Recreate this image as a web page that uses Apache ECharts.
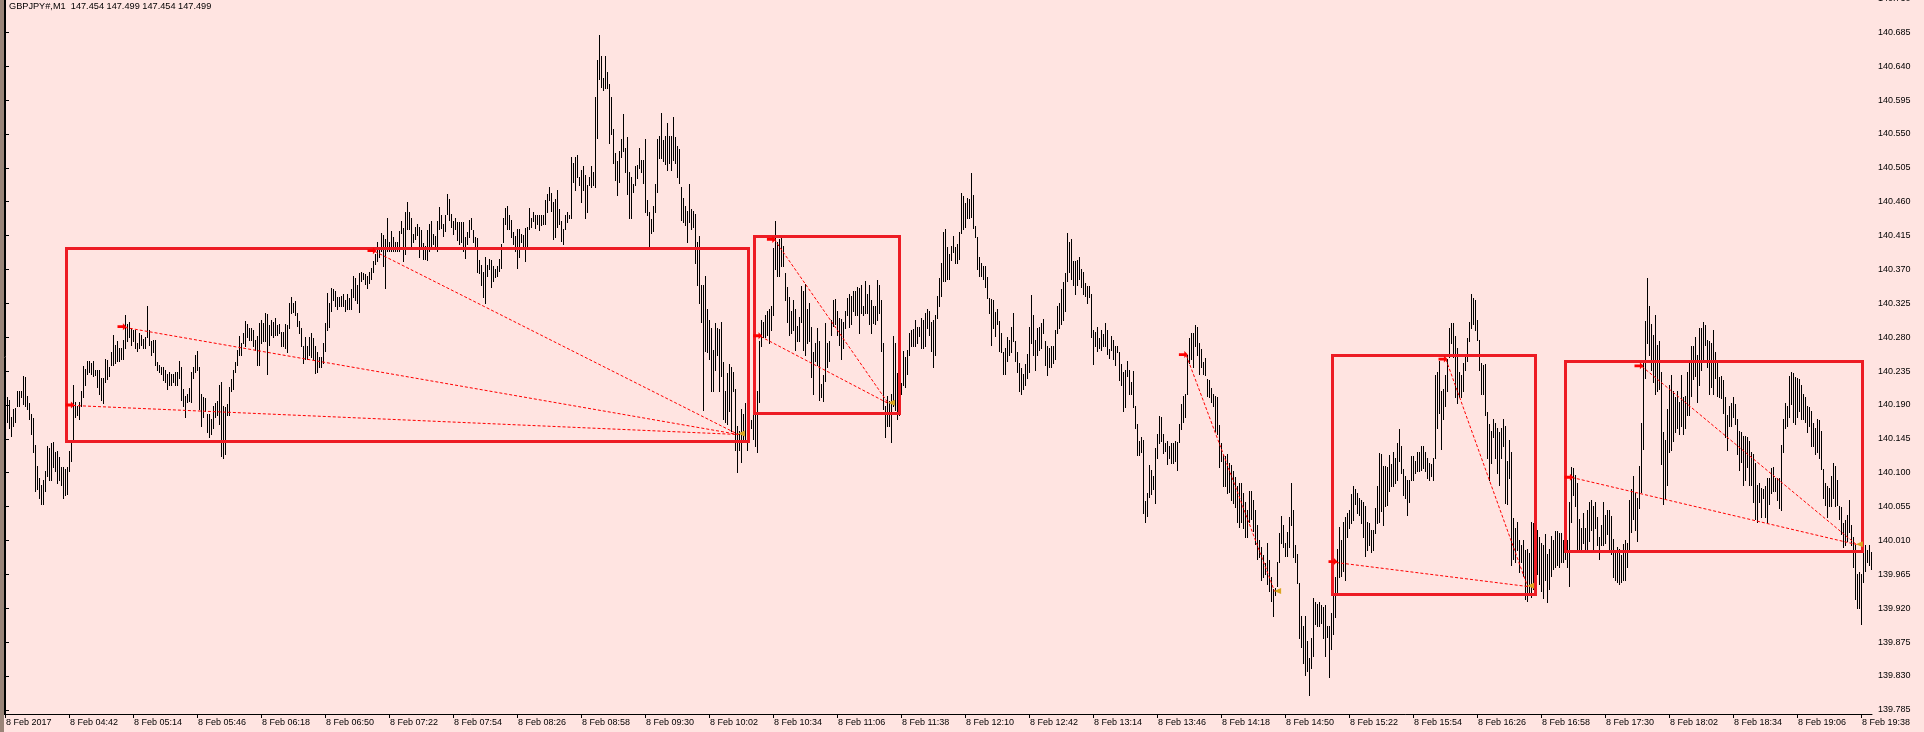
<!DOCTYPE html>
<html><head><meta charset="utf-8">
<script src="https://cdn.jsdelivr.net/npm/echarts@6/dist/echarts.min.js"></script>
<style>html,body{margin:0;padding:0;background:#FFE4E1;overflow:hidden}#c{width:1924px;height:732px}</style>
</head><body><div id="c"></div>
<script>
// ---- data ----
const headerText = 'GBPJPY#,M1  147.454 147.499 147.454 147.499';
const dayLabel = '8 Feb';
const firstTickLabel = '8 Feb 2017';
const startTime = '04:10';           // time of bar 0 (M1 bars)
const BASE = 139.700;                // prices below are in points (0.001) above BASE
const highs = [
494,500,497,474,485,486,508,508,509,528, 527,502,493,478,473,437,409,393,384,391,
402,435,433,439,441,428,429,421,407,407, 405,407,429,441,516,494,489,494,508,542,
538,549,549,546,548,537,537,536,526,526, 551,550,540,560,583,570,575,566,566,577,
609,598,600,592,589,590,572,585,583,578, 580,622,589,575,576,577,547,543,540,540,
536,531,534,531,531,534,534,549,540,511, 502,505,512,534,540,557,562,540,505,500,
499,478,478,471,488,492,495,517,520,488, 487,491,514,524,537,547,563,581,573,585,
601,598,592,592,589,577,581,599,603,599, 612,611,596,603,600,606,596,598,587,587,
598,596,626,633,625,628,612,602,592,569, 580,569,580,585,579,568,560,554,554,573,
599,639,625,646,644,641,633,633,635,638, 630,637,632,644,662,659,649,666,667,666,
664,661,667,672,681,690,707,698,
719,716,711,738,707,721,713,707,707,721, 735,725,747,760,746,739,717,727,731,726,
722,705,701,723,730,734,717,714,735,753, 742,731,743,770,763,744,735,739,733,733,
733,733,713,720,736,738,723,713,712,683, 676,667,686,676,684,682,675,670,675,684,
704,738,752,754,742,736,720,714,724,724, 717,716,725,727,752,739,746,743,743,743,
743,743,762,770,780,771,760,763,776,750, 735,724,742,747,743,819,812,820,822,793,
802,808,796,782,793,808,799,899,948,981, 953,925,954,933,916,899,857,825,814,828,
844,877,831,846,799,793,783,808,809,831, 816,816,844,762,747,737,754,783,844,848,
878,842,848,865,848,848,873,846,834,830, 779,765,754,748,783,750,748,744,707,714,
649,649,662,618,603,592,563,599,592,591, 600,547,508,533,545,540,534,511,462,455,
485,478,493,477,477,470,478,477,
508,575,603,600,609,615,618,621,698,735, 707,710,712,701,666,647,633,615,629,617,
595,607,648,642,651,618,625,593,560,572, 592,575,518,530,599,573,575,603,629,631,
615,606,604,600,615,632,638,635,642,642, 647,645,649,621,655,638,649,630,621,621,
656,649,629,573,488,502,495,505,582,573, 533,517,519,562,554,563,585,589,591,603,
594,594,606,603,612,618,615,600,603,610, 635,659,678,720,724,700,690,701,714,700,
704,720,772,767,759,765,763,798,769,728, 713,686,678,674,674,660,632,631,630,613,
618,602,586,560,566,580,577,593,612,575, 560,546,539,531,545,558,594,636,609,576,
592,593,599,604,575,569,566,568,569,589, 622,626,644,653,666,719,707,710,681,681,
682,687,671,667,652,648,648,637,590,587, 594,579,590,584,599,589,564,582,576,569,
569,560,544,534,537,548,536,521,
535,488,465,442,448,443,363,373,410,403, 396,433,452,475,474,451,440,442,436,439,
439,442,441,465,491,502,505,557,579,586, 585,596,593,573,564,547,553,524,523,512,
504,502,501,464,439,424,422,425,413,410, 402,395,382,387,386,373,361,351,376,376,
364,351,330,310,301,291,280,307,284,261, 246,247,282,320,343,330,307,321,341,387,
351,304,292,253,210,197,210,177,154,180, 233,228,226,228,224,222,224,197,197,214,
242,262,299,328,311,335,341,347,350,372, 382,378,373,367,364,361,356,335,333,324,
324,353,382,426,425,409,409,407,424,412, 428,420,439,458,436,405,396,391,391,422,
422,416,428,428,436,436,428,419,413,412, 419,530,534,549,508,511,530,551,592,599,
599,581,566,534,530,546,557,579,600,638, 632,629,603,577,546,543,545,481,465,456,
472,466,460,454,460,471,462,416,
443,428,340,327,335,310,304,311,298,299, 293,335,333,327,324,315,307,304,318,292,
299,316,310,322,322,320,320,311,316,311, 361,407,406,397,387,338,327,347,327,350,
361,364,356,361,341,315,330,361,344,351, 350,343,312,293,301,299,291,305,310,307,
364,379,396,373,367,409,466,546,602,659, 622,598,583,610,570,575,534,454,443,485,
517,530,508,501,508,494,530,500,502,534, 546,569,569,580,557,592,592,600,596,576,
575,572,589,560,546,527,528,523,500,477, 488,493,500,491,472,456,454,449,449,448,
442,428,425,413,384,387,380,379,382,393, 393,406,407,393,393,393,437,472,493,488,
528,534,533,527,526,524,517,505,500,488, 487,482,466,460,471,470,456,405,387,382,
380,396,413,409,390,356,354,333,337,344, 364,331,315,304,266,268,266,298,304,298,
304,295
];
const lows = [
456,468,459,449,462,468,488,488,500,491, 489,485,471,451,428,376,379,367,359,359,
376,396,391,391,407,402,387,390,384,367, 370,372,402,416,442,474,477,471,489,500,
517,531,534,531,528,530,514,505,497,492, 520,524,528,543,543,546,549,549,551,551,
566,575,580,570,575,566,562,566,570,566, 566,580,570,557,560,543,537,534,531,523,
520,511,517,517,520,517,517,526,497,488, 474,494,495,494,526,534,537,485,462,474,
482,454,448,452,459,474,477,465,422,419, 425,477,477,508,511,534,543,557,557,572,
569,580,577,577,569,563,543,543,572,575, 575,531,570,583,580,583,583,585,569,569,
566,560,592,612,613,609,595,586,569,546, 551,551,556,554,551,532,534,540,540,546,
562,589,593,615,629,621,618,621,621,621, 615,618,618,618,633,629,626,614,655,658,
651,645,652,658,667,677,681,687,
695,675,645,695,695,695,695,694,695,695, 719,681,690,724,724,701,707,710,716,687,
701,684,684,683,695,701,704,701,694,724, 725,714,721,744,736,727,717,724,709,704,
707,694,685,704,713,724,707,701,667,666, 649,633,626,661,670,647,655,660,661,668,
672,707,730,724,724,713,704,695,672,687, 707,698,681,698,724,727,735,725,730,723,
729,730,731,747,762,748,710,713,727,730, 708,704,724,733,739,739,786,776,793,782,
760,776,738,747,782,779,782,779,845,923, 913,909,911,911,838,850,812,789,769,786,
819,828,799,770,739,739,773,782,791,805, 800,785,747,742,701,719,721,747,773,818,
818,814,810,802,811,802,816,811,793,785, 736,733,729,706,733,724,727,678,649,626,
600,484,562,560,551,508,508,537,557,508, 528,471,468,465,482,456,508,430,401,430,
414,442,442,430,447,459,445,435,
428,494,569,580,580,583,572,589,609,670, 662,662,675,675,629,600,583,586,589,563,
575,575,600,563,557,572,575,527,505,549, 543,497,500,495,522,540,549,583,595,598,
583,570,551,566,592,609,593,598,615,610, 609,585,612,609,612,612,598,585,599,598,
603,612,562,485,448,462,462,441,488,484, 471,477,504,517,514,531,557,569,569,568,
572,581,566,566,569,592,583,562,540,557, 606,622,635,655,655,657,658,683,693,678,
679,684,719,724,727,739,739,740,725,713, 670,662,661,658,647,632,612,570,592,581,
598,562,560,531,531,549,557,560,575,549, 534,508,504,511,517,526,534,572,557,536,
556,563,566,585,543,530,540,540,546,551, 585,592,598,603,615,655,667,658,649,637,
649,658,647,638,635,626,633,580,545,569, 562,566,563,569,569,558,553,563,551,543,
560,523,517,482,487,528,505,505,
487,460,423,423,428,347,335,343,368,372, 379,360,420,439,442,426,429,412,419,413,
413,416,403,441,458,468,474,504,546,551, 540,569,557,531,540,531,530,502,501,494,
489,455,451,407,416,383,382,373,374,364, 360,354,335,328,334,326,314,315,334,338,
322,305,285,288,258,261,266,252,243,229, 210,238,249,281,307,301,289,289,301,330,
288,281,253,180,168,147,131,137,105,141, 157,199,197,197,200,180,157,182,128,166,
186,209,240,261,263,270,258,315,326,333, 337,359,347,344,333,315,289,297,304,295,
297,320,333,335,349,331,356,357,376,382, 383,387,390,416,399,370,367,344,361,390,
390,399,402,402,403,406,402,393,391,396, 390,419,459,479,432,472,488,508,554,572,
554,500,493,500,501,508,537,549,575,592, 598,589,576,537,504,505,477,419,390,413,
448,419,399,384,419,436,360,359,
393,278,286,281,298,268,282,263,232,229, 239,235,246,252,266,252,243,234,258,228,
246,263,272,275,278,275,281,281,286,275, 249,335,370,356,295,298,297,307,298,298,
309,324,298,327,304,286,304,304,307,318, 298,292,262,258,255,252,255,258,257,275,
298,321,338,324,309,353,374,432,526,572, 557,537,520,505,508,511,412,359,367,384,
428,430,442,454,459,451,462,451,459,477, 477,502,524,528,494,517,537,551,570,540,
505,514,505,526,502,501,499,479,448,430, 462,462,474,465,425,403,414,384,390,407,
384,384,361,338,335,361,341,367,341,335, 359,373,376,376,364,353,351,428,459,462,
474,491,468,465,474,482,471,471,468,454, 462,436,435,425,428,419,405,367,357,341,
356,356,367,356,357,338,318,301,304,309, 321,304,275,232,220,220,199,255,269,281,
278,272
];
const yTicks = [139.785,139.830,139.875,139.920,139.965,140.010,140.055,140.100,140.145,140.190,140.235,
  140.280,140.325,140.370,140.415,140.460,140.505,140.550,140.595,140.640,140.685,140.730];
const xTickTimes = ['04:10','04:42','05:14','05:46','06:18','06:50','07:22','07:54','08:26','08:58',
  '09:30','10:02','10:34','11:06','11:38','12:10','12:42','13:14','13:46','14:18',
  '14:50','15:22','15:54','16:26','16:58','17:30','18:02','18:34','19:06','19:38'];
// rectangles: [startBar, endBar, topPrice, bottomPrice]
const boxes = [
  [30.5, 371.3, 140.398, 140.142],
  [374.5, 447.2, 140.415, 140.179],
  [663.7, 764.8, 140.257, 139.939],
  [780.0, 928.7, 140.248, 139.996]
];
// dashed trend lines: [fromBar, fromPrice, toBar, toPrice]
const fanLines = [
  [34, 140.190, 366.7, 140.152],
  [60, 140.294, 366.7, 140.152],
  [185, 140.395, 366.7, 140.152],
  [377.8, 140.282, 441.7, 140.193],
  [384.7, 140.410, 441.7, 140.193],
  [590.7, 140.257, 634.8, 139.943],
  [665.5, 139.982, 761.3, 139.950],
  [720.5, 140.251, 761.3, 139.950],
  [783.5, 140.094, 925.7, 140.005],
  [818.5, 140.242, 925.7, 140.005]
];

// ---- build ----
const toMin = t => { const [h, m] = t.split(':').map(Number); return h * 60 + m; };
const tickIdx = xTickTimes.map(t => toMin(t) - toMin(startTime));
const tickLabel = {};
xTickTimes.forEach((t, k) => { tickLabel[tickIdx[k]] = k === 0 ? firstTickLabel : dayLabel + ' ' + t; });
const barData = highs.map((h, i) => [i, +(BASE + lows[i] / 1000).toFixed(3), +(BASE + h / 1000).toFixed(3)]);
const startPts = fanLines.map(l => [l[0], l[1]]);
const endSeen = {}; const endPts = [];
fanLines.forEach(l => { const k = l[2] + '_' + l[3]; if (!endSeen[k]) { endSeen[k] = 1; endPts.push([l[2], l[3]]); } });
const NB = highs.length;

const FONT = '"Liberation Sans", "DejaVu Sans", Arial, sans-serif';
const chart = echarts.init(document.getElementById('c'), null, { renderer: 'canvas' });
chart.setOption({
  animation: false,
  backgroundColor: '#FFE4E1',
  textStyle: { fontFamily: FONT },
  grid: { left: 4, right: 52, top: -3, bottom: 18, containLabel: false, outerBoundsMode: 'none' },
  xAxis: {
    type: 'value', min: -0.5, max: NB - 0.5,
    axisLine: { show: true, lineStyle: { color: '#000', width: 1 } },
    axisTick: { show: true, length: 4, lineStyle: { color: '#000' }, customValues: tickIdx },
    axisLabel: { show: true, customValues: tickIdx, formatter: v => tickLabel[Math.round(v)] || '',
      align: 'left', margin: 4, color: '#000', fontSize: 9, fontFamily: FONT, padding: [0, 0, 0, 1],
      hideOverlap: false },
    splitLine: { show: false }
  },
  yAxis: {
    type: 'value', position: 'right', min: 139.7795, max: 140.732, scale: true,
    axisLine: { show: true, lineStyle: { color: '#000', width: 1 } },
    axisTick: { show: true, length: 4, lineStyle: { color: '#000' }, customValues: yTicks },
    axisLabel: { show: true, customValues: yTicks, formatter: v => v.toFixed(3), margin: 6,
      color: '#000', fontSize: 9, fontFamily: FONT, hideOverlap: false },
    splitLine: { show: false }
  },
  graphic: [
    { type: 'rect', left: 0, top: 0, shape: { width: 4, height: 732 }, style: { fill: '#9A8478' }, z: 100 },
    { type: 'line', shape: { x1: 4.5, y1: 0, x2: 4.5, y2: 715 }, style: { stroke: '#000', lineWidth: 1 }, z: 100 },
    { type: 'text', left: 9, top: 2, style: { text: headerText, fill: '#000', font: '9.2px ' + FONT }, z: 100 }
  ],
  series: [
    {
      type: 'custom', name: 'bars', data: barData, encode: { x: 0, y: [1, 2] }, z: 2, silent: true,
      renderItem: (params, api) => {
        const x = api.value(0);
        const lo = api.coord([x, api.value(1)]);
        const hi = api.coord([x, api.value(2)]);
        const px = Math.floor(lo[0] + 0.01) + 0.5;
        return { type: 'line', shape: { x1: px, y1: Math.round(hi[1]), x2: px, y2: Math.round(lo[1]) + 1 },
          style: { stroke: '#000', lineWidth: 1 } };
      }
    },
    {
      type: 'custom', name: 'lines', data: fanLines, encode: { x: [0, 2], y: [1, 3] }, z: 4, silent: true,
      renderItem: (params, api) => {
        const a = api.coord([api.value(0), api.value(1)]);
        const b = api.coord([api.value(2), api.value(3)]);
        return { type: 'line', shape: { x1: a[0], y1: Math.round(a[1]) + 0.5, x2: b[0], y2: Math.round(b[1]) + 0.5 },
          style: { stroke: '#FF0000', lineWidth: 1, lineDash: [3, 2] } };
      }
    },
    {
      type: 'custom', name: 'boxes', data: boxes, encode: { x: [0, 1], y: [2, 3] }, z: 5, silent: true,
      renderItem: (params, api) => {
        const a = api.coord([api.value(0), api.value(2)]);
        const b = api.coord([api.value(1), api.value(3)]);
        const x0 = Math.round(a[0]) + 0.5, y0 = Math.round(a[1]) + 0.5;
        return { type: 'rect', shape: { x: x0, y: y0, width: Math.round(b[0]) - Math.round(a[0]), height: Math.round(b[1]) - Math.round(a[1]) },
          style: { fill: 'none', stroke: '#ED1C24', lineWidth: 3 } };
      }
    },
    {
      type: 'scatter', name: 'startMarks', data: startPts, z: 6, silent: true,
      symbol: 'path://M0,3L6,3L6,0L10,5L6,10L6,7L0,7Z', symbolSize: [9, 7], symbolOffset: [-3, 0],
      itemStyle: { color: '#FF0000', opacity: 1 }
    },
    {
      type: 'scatter', name: 'endMarks', data: endPts, z: 6, silent: true,
      symbol: 'triangle', symbolSize: [6, 7], symbolRotate: 90, symbolOffset: [3, 0],
      itemStyle: { color: '#DAA520', opacity: 1 }
    }
  ]
});
</script>
</body></html>
